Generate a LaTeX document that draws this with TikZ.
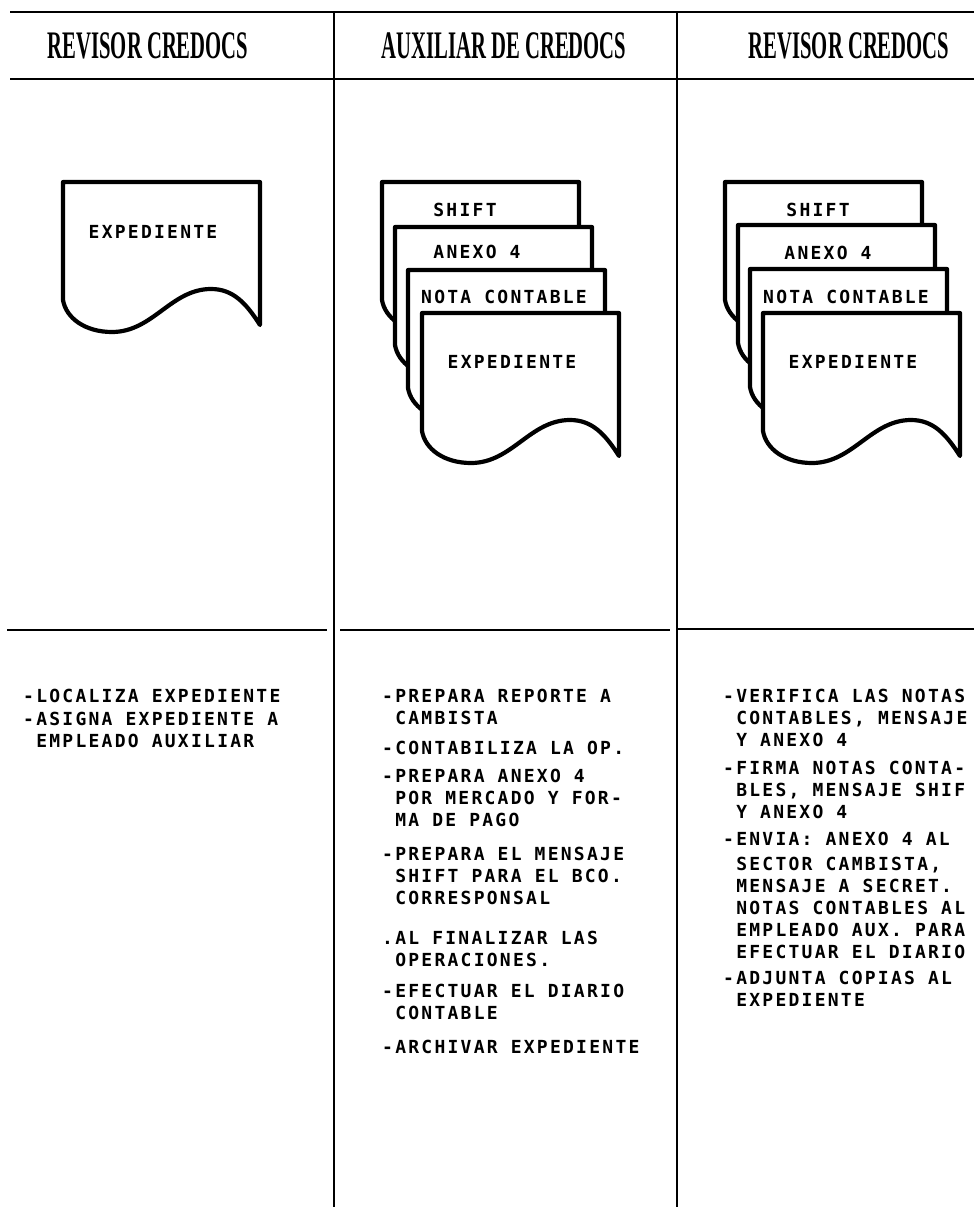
\documentclass[tikz,border=0pt]{standalone}
\usepackage{fontspec}
\usepackage{graphicx}
\newfontfamily\bodyfont[LetterSpace=12.5]{DejaVu Sans Mono}
\newfontfamily\headfont{Liberation Serif}
\newcommand\myind{\hspace*{13.1pt}}
\tikzset{
  hrule/.style={line width=2.8pt, draw=black},
  sepline/.style={line width=2.6pt, draw=black},
  vdiv/.style={line width=2pt, draw=black},
  docline/.style={line width=4.2pt, draw=black, fill=white, line join=round},
  hdr/.style={font=\headfont\bfseries\fontsize{39}{40}\selectfont, inner sep=0pt},
  txtbody/.style={font=\bodyfont\bfseries\fontsize{18}{22}\selectfont, inner sep=0pt, align=left, anchor=north west},
  doctext/.style={font=\bodyfont\bfseries\fontsize{18}{22}\selectfont, inner sep=0pt},
  pics/docu/.style={code={
    \draw[docline] (0,0) -- (197,0) -- (197,143)
      .. controls (183,121) and (170,107) .. (148,107)
      .. controls (108,107) and (90,150) .. (49,150)
      .. controls (22,150) and (3,136) .. (0,118) -- cycle;
  }}
}
\begin{document}
\begin{tikzpicture}[x=1pt,y=-1pt]
\fill[white] (0,0) rectangle (974,1207);
\useasboundingbox (0,0) rectangle (974,1207);

% frame lines
\coordinate (tl) at (10,12);   \coordinate (tr) at (974,12);
\coordinate (hl) at (10,79);   \coordinate (hr) at (974,79);
\coordinate (d1t) at (334,12); \coordinate (d1b) at (334,1207);
\coordinate (d2t) at (677,12); \coordinate (d2b) at (677,1207);
\coordinate (s1a) at (7,630);   \coordinate (s1b) at (327,630);
\coordinate (s2a) at (340,630); \coordinate (s2b) at (670,630);
\coordinate (s3a) at (677,629); \coordinate (s3b) at (974,629);
\draw[hrule] (tl) -- (tr);
\draw[hrule] (hl) -- (hr);
\draw[vdiv] (d1t) -- (d1b);
\draw[vdiv] (d2t) -- (d2b);
\draw[sepline] (s1a) -- (s1b);
\draw[sepline] (s2a) -- (s2b);
\draw[sepline] (s3a) -- (s3b);

% headers
\node[hdr] (h1) at (148,46) {\scalebox{0.53}[1]{REVISOR CREDOCS}};
\node[hdr] (h2) at (504,46) {\scalebox{0.53}[1]{AUXILIAR DE CREDOCS}};
\node[hdr] (h3) at (849,46) {\scalebox{0.53}[1]{REVISOR CREDOCS}};

% documents
\pic (docA) at (63,182) {docu};
\pic (docB1) at (382,182) {docu};
\pic (docB2) at (395,227) {docu};
\pic (docB3) at (408,270) {docu};
\pic (docB4) at (422,313) {docu};
\pic (docC1) at (725,182) {docu};
\pic (docC2) at (738,225) {docu};
\pic (docC3) at (750,269) {docu};
\pic (docC4) at (763,313) {docu};

\node[doctext] (tA) at (153,232) {EXPEDIENTE};
\node[doctext] (tB1) at (465,210) {SHIFT};
\node[doctext] (tB2) at (477,252) {ANEXO 4};
\node[doctext] (tB3) at (504,297) {NOTA CONTABLE};
\node[doctext] (tB4) at (512,362) {EXPEDIENTE};
\node[doctext] (tC1) at (818,210) {SHIFT};
\node[doctext] (tC2) at (828,253) {ANEXO 4};
\node[doctext] (tC3) at (846,297) {NOTA CONTABLE};
\node[doctext] (tC4) at (853,362) {EXPEDIENTE};

% left column texts
\node[txtbody] (L1) at (23,688.5) {-LOCALIZA EXPEDIENTE};
\node[txtbody] (L2) at (23,711.5) {-ASIGNA EXPEDIENTE A\\\myind EMPLEADO AUXILIAR};

% middle column texts
\node[txtbody] (M1) at (382,688.5) {-PREPARA REPORTE A\\\myind CAMBISTA};
\node[txtbody] (M2) at (382,740.5) {-CONTABILIZA LA OP.};
\node[txtbody] (M3) at (382,768.5) {-PREPARA ANEXO 4\\\myind POR MERCADO Y FOR-\\\myind MA DE PAGO};
\node[txtbody] (M4) at (382,846.5) {-PREPARA EL MENSAJE\\\myind SHIFT PARA EL BCO.\\\myind CORRESPONSAL};
\node[txtbody] (M5) at (382,930.5) {.AL FINALIZAR LAS\\\myind OPERACIONES.};
\node[txtbody] (M6) at (382,983.5) {-EFECTUAR EL DIARIO\\\myind CONTABLE};
\node[txtbody] (M7) at (382,1039.5) {-ARCHIVAR EXPEDIENTE};

% right column texts
\node[txtbody] (R1) at (723,688.5) {-VERIFICA LAS NOTAS\\\myind CONTABLES, MENSAJE\\\myind Y ANEXO 4};
\node[txtbody] (R2) at (723,760.5) {-FIRMA NOTAS CONTA-\\\myind BLES, MENSAJE SHIF\\\myind Y ANEXO 4};
\node[txtbody] (R3) at (723,831.5) {-ENVIA: ANEXO 4 AL\\[3pt]\myind SECTOR CAMBISTA,\\\myind MENSAJE A SECRET.\\\myind NOTAS CONTABLES AL\\\myind EMPLEADO AUX. PARA\\\myind EFECTUAR EL DIARIO};
\node[txtbody] (R4) at (723,970.5) {-ADJUNTA COPIAS AL\\\myind EXPEDIENTE};
\end{tikzpicture}
\end{document}
